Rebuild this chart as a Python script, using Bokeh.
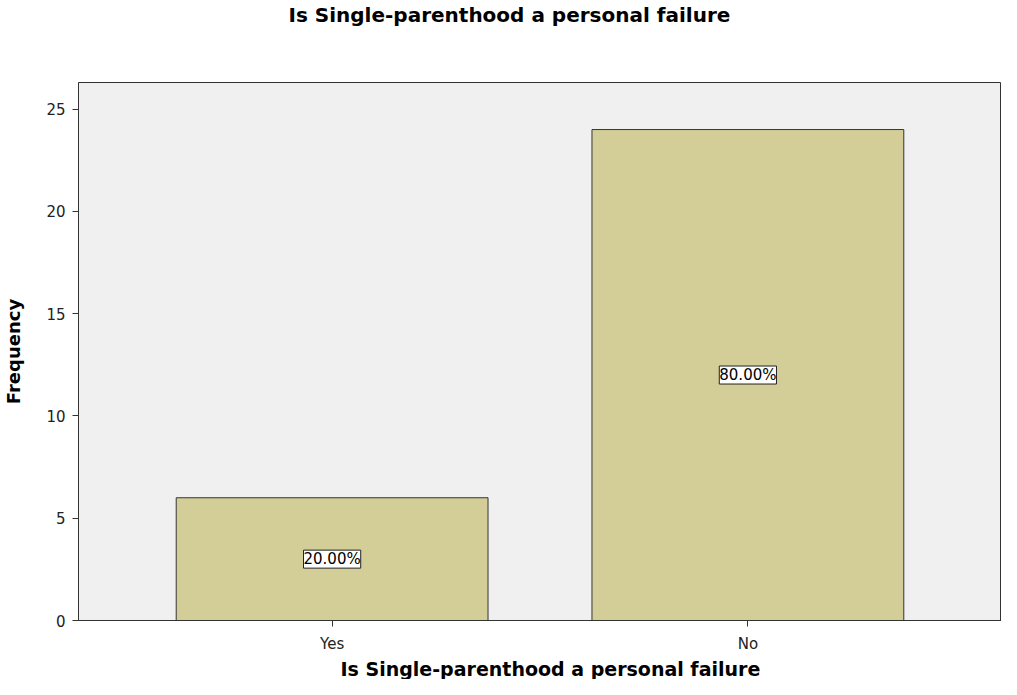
from bokeh.plotting import figure
from bokeh.models import ColumnDataSource, LabelSet, FixedTicker, Range1d, Title
from bokeh.core.properties import value
from bokeh.embed import file_html
from bokeh.resources import INLINE

categories = ["Yes", "No"]
frequency = [6, 24]
percent_labels = ["20.00%", "80.00%"]

FONT = "DejaVu Sans"
TITLE = "Is Single-parenthood a personal failure"
X_LABEL = "Is Single-parenthood a personal failure"
Y_LABEL = "Frequency"

xpos = [i + 1 for i in range(len(categories))]
src = ColumnDataSource(dict(
    x=xpos,
    top=frequency,
    mid=[f / 2 for f in frequency],
    lab=percent_labels,
))

p = figure(width=1001, height=679, output_backend="svg", toolbar_location=None,
           x_range=Range1d(0.39, 2.61), y_range=Range1d(0, 26.3),
           min_border_left=0, min_border_right=0, min_border_top=0, min_border_bottom=0)

# spacer between frame and the top title
p.add_layout(Title(text=" ", text_font_size="10px", standoff=43), "above")
# x-axis title placed under the axis
p.add_layout(Title(text=X_LABEL, align="left", offset=262, text_font=FONT, text_font_size="19px",
                   text_font_style="bold", text_color="#000000", standoff=0), "below")

p.title.text = TITLE
p.title.align = "left"
p.title.offset = 210
p.title.text_font = FONT
p.title.text_font_size = "20px"
p.title.text_font_style = "bold"
p.title.standoff = 0
p.title.text_color = "#000000"

p.background_fill_color = "#F0F0F0"
p.border_fill_color = "white"
p.outline_line_color = "#333333"
p.outline_line_width = 1
p.grid.visible = False

p.vbar(x="x", top="top", width=0.75, bottom=0, source=src,
       fill_color="#D3CE98", line_color="#333333", line_width=1)

labels = LabelSet(x="x", y="mid", text="lab", source=src,
                  text_align="center", text_baseline="middle",
                  text_font=value(FONT), text_font_size="15px", text_color="black",
                  background_fill_color="white", border_line_color="#222222",
                  border_line_width=1)
p.add_layout(labels)

p.xaxis.ticker = FixedTicker(ticks=xpos)
p.xaxis.major_label_overrides = {x: c for x, c in zip(xpos, categories)}
p.yaxis.ticker = FixedTicker(ticks=[0, 5, 10, 15, 20, 25])

for ax in (p.xaxis[0], p.yaxis[0]):
    ax.axis_line_color = "#333333"
    ax.major_tick_line_color = "#333333"
    ax.major_tick_out = 6
    ax.major_tick_in = 0
    ax.minor_tick_line_color = None
    ax.major_label_text_font = FONT
    ax.major_label_text_font_size = "15px"
    ax.major_label_text_color = "#222222"
    ax.axis_label_text_font = FONT
    ax.axis_label_text_font_style = "bold"
    ax.axis_label_text_color = "#000000"

p.xaxis.major_label_standoff = 8
p.yaxis.axis_label = Y_LABEL
p.yaxis.axis_label_text_font_size = "18px"
p.yaxis.major_label_standoff = 7
p.yaxis.axis_label_standoff = 19

open("out.html", "w").write(file_html(p, INLINE))
